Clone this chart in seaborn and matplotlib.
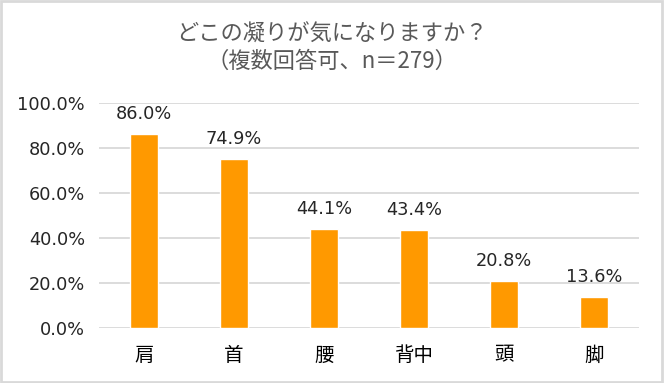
import matplotlib
matplotlib.use("Agg")
import matplotlib.pyplot as plt
import seaborn as sns
import pandas as pd
from matplotlib.patches import Rectangle
from matplotlib.ticker import FuncFormatter

categories = ["肩", "首", "腰", "背中", "頭", "脚"]
values = [86.0, 74.9, 44.1, 43.4, 20.8, 13.6]
title = "どこの凝りが気になりますか？\n（複数回答可、n＝279）"

sns.set_theme(style="white")
plt.rcParams['font.family'] = ['Noto Sans CJK JP', 'DejaVu Sans']

df = pd.DataFrame({"cat": categories, "val": values})

fig = plt.figure(figsize=(6.64, 3.83), dpi=100)
ax = fig.add_axes([99/664, 1-328/383, 540/664, (328-103)/383])
sns.barplot(data=df, x="cat", y="val", color="#FF9900", width=0.32, saturation=1, ax=ax, zorder=3)

ax.set_ylim(0, 100)
ax.set_yticks([0, 20, 40, 60, 80, 100])
ax.yaxis.set_major_formatter(FuncFormatter(lambda v, p: f"{v:.1f}%"))
ax.grid(axis="y", color="#D9D9D9", linewidth=1.3, zorder=0)
ax.set_axisbelow(True)
for s in ax.spines.values():
    s.set_visible(False)
ax.set_xlabel("")
ax.set_ylabel("")
ax.tick_params(axis="y", labelsize=12.8, labelcolor="#262626", length=0, pad=10)
ax.tick_params(axis="x", labelsize=14, labelcolor="#000000", length=0, pad=12)
for lab in ax.get_yticklabels():
    lab.set_family(['DejaVu Sans'])

for i, v in enumerate(values):
    ax.annotate(f"{v:.1f}%", (i, v), xytext=(0, 8), textcoords="offset points",
                ha="center", va="bottom", fontsize=12.8, color="#262626", family=['DejaVu Sans'])

fig.text(0.5, 1-48/383, title, ha="center", va="center", fontsize=16,
         color="#595959", linespacing=1.25)

fig.patches.append(Rectangle((0.002, 0.003), 0.995, 0.994, transform=fig.transFigure,
                             fill=False, edgecolor="#D9D9D9", linewidth=2))

fig.savefig("out.png", dpi=100)
